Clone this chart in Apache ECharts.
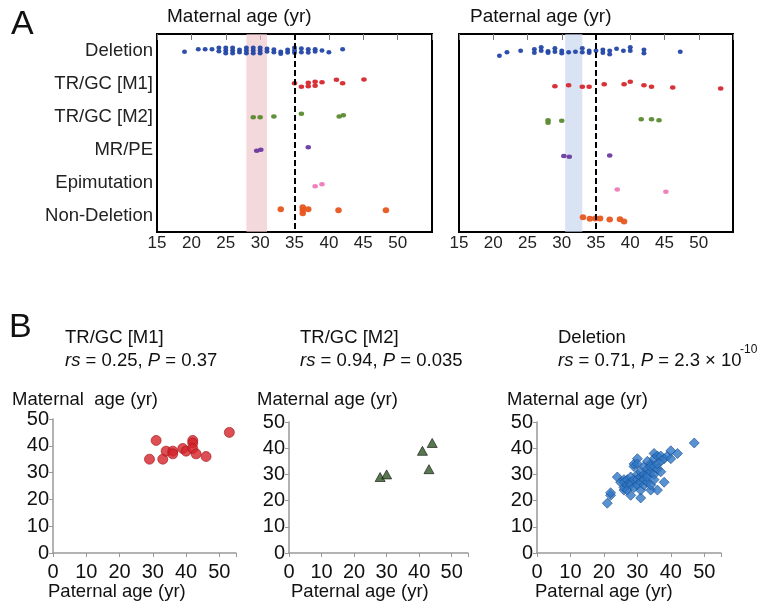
<!DOCTYPE html>
<html><head><meta charset="utf-8">
<script src="https://cdn.jsdelivr.net/npm/echarts@6/dist/echarts.min.js"></script>
<style>html,body{margin:0;padding:0;background:#fff}#c{width:766px;height:609px}</style>
</head><body><div id="c"></div>
<script>
// ---- Data ----
const categories = ['Deletion','TR/GC [M1]','TR/GC [M2]','MR/PE','Epimutation','Non-Deletion'];
const ageTicksA = [15,20,25,30,35,40,45,50];
const ageTicksB = [0,10,20,30,40,50];
// Panel A: [age, row position] (row i centred at i+0.5)
const matDeletion = [[19,0.54],[21,0.46],[22,0.46],[23,0.46],[24,0.42],[24,0.52],[25,0.42],[25,0.5],[25,0.58],[26,0.42],[26,0.5],[26,0.58],[27,0.48],[27,0.55],[28,0.42],[28,0.5],[28,0.58],[29,0.42],[29,0.5],[29,0.58],[30,0.42],[30,0.5],[30,0.58],[31,0.45],[31,0.53],[32,0.47],[32,0.55],[33,0.54],[33,0.6],[34,0.48],[34,0.56],[35,0.42],[35,0.5],[35,0.57],[36,0.44],[36,0.55],[37,0.46],[37,0.56],[38,0.46],[38,0.53],[39,0.5],[40,0.55],[42,0.46]];
const matM1 = [[35,1.49],[36,1.6],[37,1.48],[37,1.58],[38,1.45],[38,1.57],[39,1.46],[41.1,1.39],[42,1.49],[45.1,1.38]];
const matM2 = [[29,2.52],[30,2.52],[32,2.5],[36,2.42],[41.5,2.5],[42.1,2.46]];
const matMRPE = [[29.5,3.54],[30.1,3.51],[37,3.43]];
const matEpi = [[38,4.61],[39,4.55]];
const matNonDel = [[33,5.31],[36.2,5.25],[36.2,5.33],[36.2,5.43],[37,5.31],[41.4,5.34],[48.3,5.34]];
const patDeletion = [[20.9,0.66],[22,0.55],[24,0.51],[26,0.46],[26,0.57],[27,0.4],[27,0.51],[28,0.52],[28,0.57],[29,0.43],[29,0.54],[30,0.51],[30,0.58],[31,0.55],[32,0.54],[33,0.43],[33,0.55],[34,0.51],[34,0.57],[35,0.51],[36,0.48],[36,0.57],[37,0.51],[37,0.61],[38,0.45],[39,0.51],[40,0.4],[40,0.51],[42,0.48],[42,0.58],[47.3,0.54]];
const patM1 = [[29,1.58],[31,1.55],[33,1.6],[34,1.6],[36.2,1.52],[39.1,1.52],[40,1.45],[42,1.55],[43.1,1.6],[46.2,1.62],[53.2,1.65]];
const patM2 = [[28,2.61],[28,2.69],[30,2.63],[41.6,2.58],[43.1,2.58],[44.2,2.61]];
const patMRPE = [[30.3,3.7],[31.1,3.72],[37,3.68]];
const patEpi = [[38.1,4.71],[45.2,4.78]];
const patNonDel = [[33.1,5.55],[34.1,5.6],[34.9,5.59],[35.6,5.59],[37,5.62],[38.5,5.61],[39.1,5.68]];
const cutoffAge = 35;
const matBand = [28, 31];
const patBand = [30.5, 33];
// Panel B: paternal vs maternal
const m1Pat = [29,31,33,34,36,36,39,40,42,42,42,43,46,53];
const m1Mat = [35,42,35,38,38,37,39,38,42,41,39,37,36,45];
const m2Pat = [28,30,41,43,44];
const m2Mat = [29,30,39,32,42];
const delPairs = [[21,19],[22,22],[22,23],[24,29],[25,27],[26,28],[26,24],[26,25],[26,27],[27,26],[27,28],[27,24],[28,22],[28,27],[28,29],[28,26],[29,25],[29,28],[29,33],[29,34],[30,36],[30,30],[30,28],[30,26],[30,34],[31,21],[31,24],[31,29],[31,27],[31,31],[32,26],[32,30],[32,33],[32,28],[33,35],[33,32],[33,30],[33,27],[33,29],[34,24],[34,34],[34,31],[34,33],[34,26],[35,38],[35,36],[35,30],[35,28],[35,33],[36,24],[36,37],[36,32],[36,34],[37,31],[37,35],[37,37],[38,27],[38,36],[39,37],[40,39],[40,36],[42,38],[47,42]];

// ---- Styles ----
const FONT = 'Liberation Sans, Arial, sans-serif';
const rowColors = ['#2347a8','#d7262c','#5b8a2f','#6a3aa0','#ee7ab8','#e8561f'];
const rowSizes = [[5,4.5],[5.5,4.5],[5.5,4.5],[5.5,4.5],[5.5,4.5],[6.5,6]];
const matSets = [matDeletion, matM1, matM2, matMRPE, matEpi, matNonDel];
const patSets = [patDeletion, patM1, patM2, patMRPE, patEpi, patNonDel];

function xAxisA(gi){
  return {type:'value', gridIndex:gi, min:15, max:55, interval:5,
    axisLine:{show:true, lineStyle:{color:'#000', width:2}},
    axisTick:{show:true, length:6, lineStyle:{color:'#777', width:1}},
    splitLine:{show:false},
    axisLabel:{fontSize:17, color:'#222', fontFamily:FONT, margin:3,
      formatter: v => ageTicksA.includes(v) ? String(v) : ''}};
}
function yAxisA(gi){
  return {type:'value', gridIndex:gi, min:0, max:6, inverse:true, show:false};
}
function xAxisB(gi){
  return {type:'value', gridIndex:gi, min:0, max:55, interval:10,
    axisLine:{show:true, lineStyle:{color:'#999', width:1.5}},
    axisTick:{show:true, length:4, lineStyle:{color:'#999'}},
    splitLine:{show:false},
    axisLabel:{fontSize:20, color:'#111', fontFamily:FONT, margin:9,
      formatter: v => ageTicksB.includes(v) ? String(v) : ''}};
}
function yAxisB(gi){
  return {type:'value', gridIndex:gi, min:0, max:50, interval:10,
    axisLine:{show:true, lineStyle:{color:'#999', width:1.5}},
    axisTick:{show:true, length:4, lineStyle:{color:'#999'}},
    splitLine:{show:false},
    axisLabel:{fontSize:20, color:'#111', fontFamily:FONT, margin:4}};
}

const series = [];
function addPanelA(sets, xi, yi, band, bandColor){
  series.push({type:'scatter', xAxisIndex:xi, yAxisIndex:yi, data:[], z:1, silent:true,
    markArea:{silent:true, itemStyle:{color:bandColor}, data:[[{xAxis:band[0]},{xAxis:band[1]}]]},
    markLine:{silent:true, symbol:'none', label:{show:false},
      lineStyle:{color:'#000', width:2, type:[6,3]}, data:[{xAxis:cutoffAge}]}});
  sets.forEach((d,i)=>{
    series.push({type:'scatter', xAxisIndex:xi, yAxisIndex:yi, data:d, z:3,
      symbol:'circle', symbolSize:rowSizes[i],
      itemStyle:{color:rowColors[i], opacity:0.95}});
  });
}
addPanelA(matSets, 0, 0, matBand, 'rgba(236,196,200,0.65)');
addPanelA(patSets, 1, 1, patBand, 'rgba(196,212,236,0.65)');

series.push({type:'scatter', xAxisIndex:2, yAxisIndex:2, z:3,
  data: m1Pat.map((p,i)=>[p, m1Mat[i]]), symbol:'circle', symbolSize:10,
  itemStyle:{color:'#d3232a', borderColor:'#a51418', borderWidth:0.8}});
series.push({type:'scatter', xAxisIndex:3, yAxisIndex:3, z:3,
  data: m2Pat.map((p,i)=>[p, m2Mat[i]]), symbol:'triangle', symbolSize:[10,9],
  itemStyle:{color:'#2e5623', borderColor:'#111', borderWidth:0.8}});
series.push({type:'scatter', xAxisIndex:4, yAxisIndex:4, z:3,
  data: delPairs, symbol:'diamond', symbolSize:10,
  itemStyle:{color:'#2f77c6', borderColor:'#1b4f8f', borderWidth:0.8}});

const txt = (left, top, text, size, extra) => ({type:'text', left, top, silent:true,
  style:Object.assign({text, fontSize:size, fontFamily:FONT, fill:'#111'}, extra||{})});
const rich = {i:{fontStyle:'italic', fontSize:18.5, fontFamily:FONT}, n:{fontSize:18.5, fontFamily:FONT}};

const option = {
  animation:false,
  backgroundColor:'#fff',
  grid:[
    {left:157, top:34, width:275, height:198, show:true, borderColor:'#000', borderWidth:2},
    {left:459, top:34, width:274, height:198, show:true, borderColor:'#000', borderWidth:2},
    {left:53, top:419, width:183, height:134},
    {left:289, top:422, width:179, height:131},
    {left:537, top:422, width:184, height:131}
  ],
  xAxis:[xAxisA(0), xAxisA(1), xAxisB(2), xAxisB(3), xAxisB(4)],
  yAxis:[yAxisA(0), yAxisA(1), yAxisB(2), yAxisB(3), yAxisB(4),
    {type:'category', gridIndex:0, position:'left', data:categories, inverse:true, boundaryGap:true,
     axisLine:{show:false}, axisTick:{show:false}, splitLine:{show:false},
     axisLabel:{fontSize:18.5, color:'#222', fontFamily:FONT, margin:4}}],
  series,
  graphic:[
    txt(11, 8, 'A', 34),
    txt(9, 311, 'B', 34),
    txt(167, 7, 'Maternal age (yr)', 19),
    txt(470, 7, 'Paternal age (yr)', 19),
    txt(65, 328, 'TR/GC [M1]', 18.5),
    txt(300, 328, 'TR/GC [M2]', 18.5),
    txt(558, 328, 'Deletion', 18.5),
    {type:'text', left:65, top:351, silent:true, style:{text:'{i|rs}{n| = 0.25, }{i|P}{n| = 0.37}', rich, fill:'#111'}},
    {type:'text', left:300, top:351, silent:true, style:{text:'{i|rs}{n| = 0.94, }{i|P}{n| = 0.035}', rich, fill:'#111'}},
    {type:'text', left:558, top:351, silent:true, style:{text:'{i|rs}{n| = 0.71, }{i|P}{n| = 2.3 × 10}', rich, fill:'#111'}},
    txt(740, 344, '-10', 12),
    txt(12, 390, 'Maternal  age (yr)', 18.5),
    txt(257, 390, 'Maternal age (yr)', 18.5),
    txt(507, 390, 'Maternal age (yr)', 18.5),
    txt(48, 582, 'Paternal age (yr)', 18.5),
    txt(291, 582, 'Paternal age (yr)', 18.5),
    txt(535, 582, 'Paternal age (yr)', 18.5)
  ]
};
echarts.init(document.getElementById('c'), null, {renderer:'canvas'}).setOption(option);
</script></body></html>
